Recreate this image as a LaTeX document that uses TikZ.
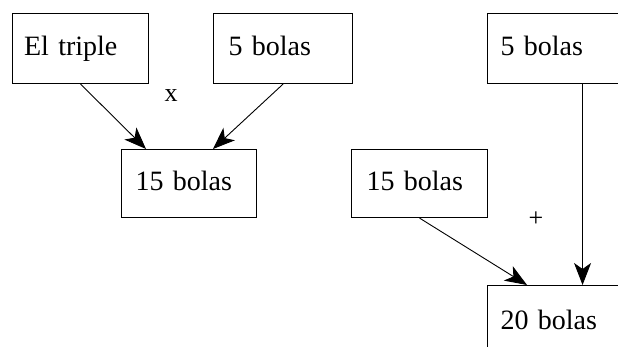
\documentclass[tikz,border=0pt]{standalone}
\usepackage{fontspec}
\setmainfont{Liberation Serif}
\usetikzlibrary{arrows.meta}
\begin{document}
\begin{tikzpicture}[x=1pt,y=-1pt,
  box/.style={draw,line width=1.1pt,rectangle,anchor=north west,inner sep=0pt,
    font=\fontsize{28}{30}\selectfont,text height=19pt,text depth=6pt,align=left},
  conn/.style={line width=0.9pt,-{Stealth[length=22pt,width=17pt,inset=6pt]}},
  lbl/.style={font=\fontsize{26}{28}\selectfont,inner sep=0pt}]
\useasboundingbox (0,0) rectangle (618,347);
\clip (0,0) rectangle (618,347);
\node[box,minimum width=136pt,minimum height=70pt,text width=113pt] (b1) at (12,13) {El triple};
\node[box,minimum width=139pt,minimum height=70pt,text width=109pt] (b2) at (213,13) {5 bolas};
\node[box,minimum width=135pt,minimum height=68pt,text width=107pt] (b3) at (121,149) {15 bolas};
\node[box,minimum width=190pt,minimum height=70pt,text width=164pt] (b4) at (487,13) {5 bolas};
\node[box,minimum width=136pt,minimum height=68pt,text width=106pt] (b5) at (351,149) {15 bolas};
\node[box,minimum width=190pt,minimum height=70pt,text width=164pt,text depth=2pt] (b6) at (487,285) {20 bolas};
\coordinate (t3a) at ([xshift=25pt]b3.north west);
\coordinate (t3b) at ([xshift=92pt]b3.north west);
\coordinate (t6a) at ([xshift=40pt]b6.north west);
\draw[conn] (b1.south) -- (t3a);
\draw[conn] (b2.south) -- (t3b);
\draw[conn] (b5.south) -- (t6a);
\draw[conn] (b4.south) -- (b6.north);
\node[lbl] (x) at (171,96) {x};
\node[lbl] (plus) at (536,219) {+};
\end{tikzpicture}
\end{document}
